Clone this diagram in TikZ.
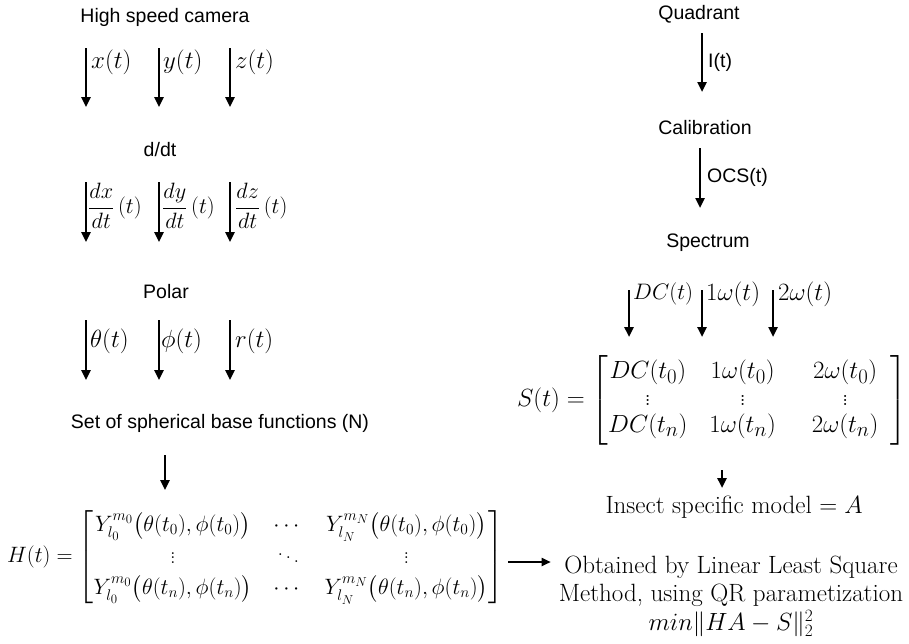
\documentclass[tikz,border=0pt]{standalone}
\usepackage{amsmath}
\usepackage{graphicx}
\usepackage{fontspec}
\newfontfamily\arial{Liberation Sans}
\usetikzlibrary{arrows.meta}
\begin{document}
\begin{tikzpicture}[x=1pt,y=-1pt,
  lbl/.style={font=\arial\fontsize{19.5}{23}\selectfont, inner sep=0pt},
  mth/.style={font=\fontsize{24.88}{28}\selectfont, inner sep=0pt, anchor=west},
  frc/.style={font=\fontsize{20.74}{26}\selectfont, inner sep=0pt, anchor=west},
  spl/.style={font=\fontsize{20.74}{26}\selectfont, inner sep=0pt, anchor=west},
  srf/.style={font=\fontsize{25}{28.5}\selectfont, inner sep=0pt, align=center},
  arr/.style={-{Triangle[width=9pt,length=10pt]}, line width=2.4pt},
  harr/.style={-{Triangle[width=8pt,length=9pt]}, line width=1.8pt}]
\useasboundingbox (0,0) rectangle (909,643);

% ---------- left column ----------
\node[lbl] (cam) at (165,17) {High speed camera};
\foreach \n/\x in {ax/86, ay/159, az/230}{
  \coordinate (\n s) at (\x,48); \coordinate (\n e) at (\x,107);
  \draw[arr] (\n s) -- (\n e);}
\node[mth] (lx) at (91,62) {$x(t)$};
\node[mth] (ly) at (163,62) {$y(t)$};
\node[mth] (lz) at (235,62) {$z(t)$};

\node[lbl] (ddt) at (160,150) {d/dt};
\foreach \n/\x in {bx/86, by/159, bz/230}{
  \coordinate (\n s) at (\x,182); \coordinate (\n e) at (\x,242);
  \draw[arr] (\n s) -- (\n e);}
\node[frc] (ldx) at (88,206) {\scalebox{1.07}{$\dfrac{dx}{dt}\,(t)$}};
\node[frc] (ldy) at (162,206) {\scalebox{1.07}{$\dfrac{dy}{dt}\,(t)$}};
\node[frc] (ldz) at (235,206) {\scalebox{1.07}{$\dfrac{dz}{dt}\,(t)$}};

\node[lbl] (pol) at (166,292) {Polar};
\foreach \n/\x in {cx/86, cy/159, cz/230}{
  \coordinate (\n s) at (\x,320); \coordinate (\n e) at (\x,380);
  \draw[arr] (\n s) -- (\n e);}
\node[mth] (lth) at (90,341) {$\theta(t)$};
\node[mth] (lph) at (161,341) {$\phi(t)$};
\node[mth] (lr) at (235,341) {$r(t)$};

\node[lbl] (set) at (220,423) {Set of spherical base functions (N)};
\coordinate (ds) at (165,455); \coordinate (de) at (165,490);
\draw[arr] (ds) -- (de);

\node[mth, anchor=center, font=\fontsize{20.74}{29}\selectfont] (H) at (255,557) {\scalebox{1.073}{\arraycolsep=10pt $H(t)=\begin{bmatrix}
Y_{l_0}^{m_0}\bigl(\theta(t_0),\phi(t_0)\bigr) & \cdots & Y_{l_N}^{m_N}\bigl(\theta(t_0),\phi(t_0)\bigr)\\
\vdots & \ddots & \vdots\\
Y_{l_0}^{m_0}\bigl(\theta(t_n),\phi(t_n)\bigr) & \cdots & Y_{l_N}^{m_N}\bigl(\theta(t_n),\phi(t_n)\bigr)
\end{bmatrix}$}};

\node[srf] (ob) at (731,596) {Obtained by Linear Least Square\\Method, using QR parametization\\$min\|HA-S\|_2^2$};
\coordinate (hs) at ([xshift=5pt,yshift=-5pt]H.east);
\draw[harr] (hs) -- ([xshift=-8pt]ob.west |- hs);

% ---------- right column ----------
\node[lbl] (quad) at (699,14) {Quadrant};
\coordinate (qs) at (702,33); \coordinate (qe) at (702,92);
\draw[arr] (qs) -- (qe);
\node[lbl, anchor=west] (li) at (708,62) {I(t)};

\node[lbl] (cal) at (705,128) {Calibration};
\coordinate (ks) at (700,148); \coordinate (ke) at (700,208);
\draw[arr] (ks) -- (ke);
\node[lbl, anchor=west] (locs) at (707,177) {OCS(t)};

\node[lbl] (spec) at (708,243) {Spectrum};
\foreach \n/\x in {sa/629, sb/702, sc/773}{
  \coordinate (\n s) at (\x,290); \coordinate (\n e) at (\x,337);
  \draw[arr] (\n s) -- (\n e);}
\node[spl] (ldc) at (633,294) {\scalebox{1.08}{$DC(t)$}};
\node[mth] (l1w) at (706,294) {$1\omega(t)$};
\node[mth] (l2w) at (778,294) {$2\omega(t)$};

\node[mth, anchor=center, font=\fontsize{24.88}{27}\selectfont] (S) at (712,400) {\arraycolsep=11pt $S(t)=\begin{bmatrix}
DC(t_0) & 1\omega(t_0) & \hspace{14pt}2\omega(t_0)\hspace{12pt}\\
\vdots & \vdots & \hspace{14pt}\vdots\hspace{12pt}\\
DC(t_n) & 1\omega(t_n) & \hspace{14pt}2\omega(t_n)\hspace{12pt}
\end{bmatrix}$};

\coordinate (ms) at (722,470); \coordinate (me) at (722,488);
\draw[arr] (ms) -- (me);
\node[srf] (ins) at (734,507) {Insect specific model $=A$};
\end{tikzpicture}
\end{document}
